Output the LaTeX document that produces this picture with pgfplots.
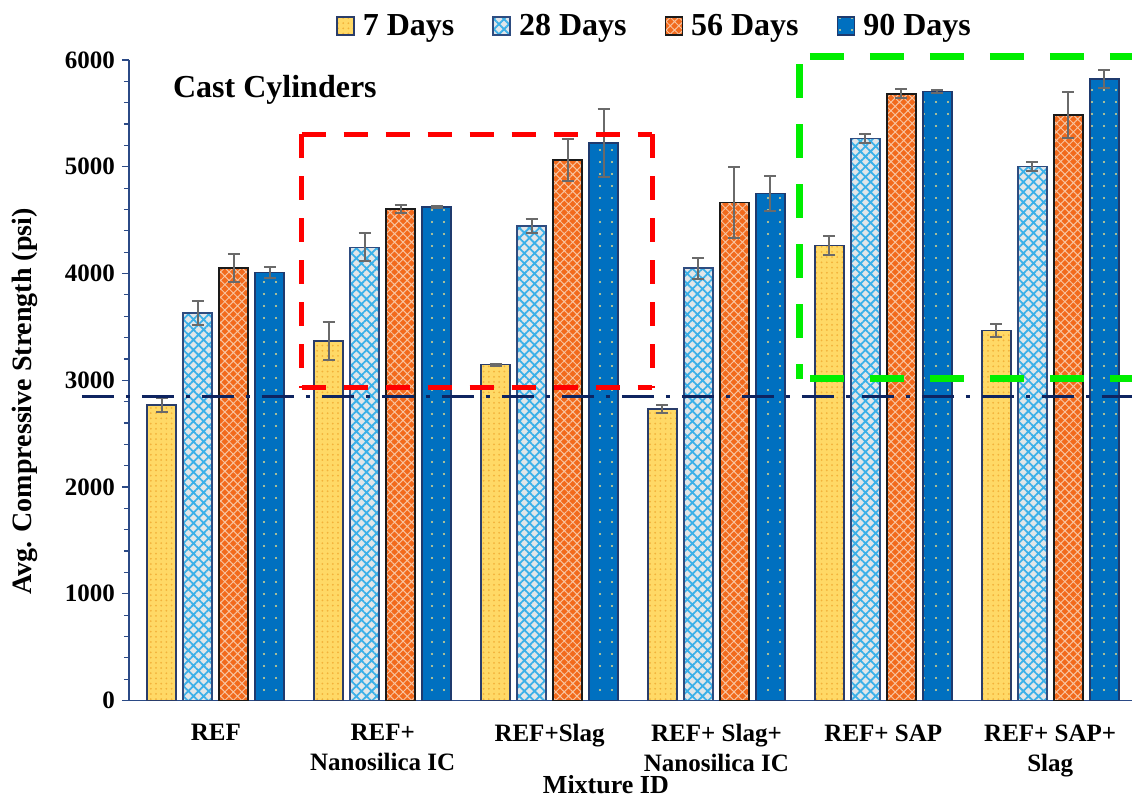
\documentclass[border=0pt]{standalone}
\usepackage{fontspec}
\setmainfont{Liberation Serif}
\usepackage{pgfplots}
\pgfplotsset{compat=1.18}
\usetikzlibrary{patterns.meta}
\definecolor{c7fill}{HTML}{FFD966}
\definecolor{c7dot}{HTML}{F2B23A}
\definecolor{c7bd}{HTML}{2A3D6A}
\definecolor{c28fill}{HTML}{E2E6E8}
\definecolor{c28pat}{HTML}{3BB0E8}
\definecolor{c28bd}{HTML}{2E4C80}
\definecolor{c56fill}{HTML}{F26A1C}
\definecolor{c56pat}{HTML}{F8C4A0}
\definecolor{c56bd}{HTML}{1A1A1A}
\definecolor{c90fill}{HTML}{0070C0}
\definecolor{c90dot}{HTML}{E2D98C}
\definecolor{c90bd}{HTML}{1F3A6E}
\definecolor{errgray}{HTML}{6A6A6A}
\definecolor{axblue}{HTML}{2B4A86}
\definecolor{navyline}{HTML}{0E2460}
\definecolor{boxgreen}{RGB}{0,238,0}
\begin{document}
\begin{tikzpicture}
\useasboundingbox (-64.5pt,-48.75pt) rectangle (501.5pt,350.25pt);
\begin{axis}[
  at={(0,0)}, anchor=south west,
  scale only axis, width=501.5pt, height=320.25pt,
  xmin=-0.52, xmax=5.49, ymin=0, ymax=6000,
  ybar=3.5pt, bar width=14.5pt,
  axis lines*=left,
  axis line style={draw=axblue, line width=0.8pt},
  clip=false,
  xtick={0,1,2,3,4,5},
  xticklabels={REF,{REF+\\Nanosilica IC},REF+Slag,{REF+ Slag+\\Nanosilica IC},REF+ SAP,{REF+ SAP+\\Slag}},
  xticklabel style={align=center, font=\fontsize{12.5}{15}\selectfont\bfseries, yshift=-5pt},
  x tick style={draw=none},
  ytick={0,1000,...,6000},
  minor y tick num=4,
  tick align=outside,
  major tick length=3.5pt, minor tick length=2.5pt,
  y tick style={draw=axblue, line width=0.6pt},
  minor y tick style={draw=axblue, line width=0.6pt},
  yticklabel style={font=\fontsize{12.5}{15}\selectfont\bfseries},
  /pgf/number format/.cd, 1000 sep={}, assume math mode=true, /pgfplots/.cd,
  xlabel={Mixture ID},
  xlabel style={at={(axis description cs:0.4755,0)}, anchor=base, yshift=-46.5pt, font=\fontsize{13}{15}\selectfont\bfseries},
  ylabel={Avg. Compressive Strength (psi)},
  ylabel style={at={(axis description cs:-0.1037,0.4668)}, anchor=center, font=\fontsize{14}{16}\selectfont\bfseries},
  legend columns=4,
  legend style={draw=none, fill=none, font=\fontsize{16}{18}\selectfont\bfseries, at={(0.525,1.053)}, anchor=center,
    /tikz/every odd column/.append style={column sep=2pt},
    /tikz/every even column/.append style={column sep=17pt}},
  legend image code/.code={\draw[#1] (0pt,-4.5pt) rectangle (8.5pt,4.5pt);},
  error bars/y dir=both, error bars/y explicit,
  error bars/error bar style={draw=errgray, line width=1pt},
  error bars/error mark options={rotate=90, mark size=3pt, line width=1pt, draw=errgray},
]
\addplot[draw=c7bd, line width=0.8pt, fill=c7fill, postaction={pattern={Dots[distance=2.6pt,radius=0.5pt]}, pattern color=c7dot}]
 coordinates {(0,2768) +- (0,65) (1,3368) +- (0,180) (2,3146) +- (0,10) (3,2731) +- (0,40) (4,4263) +- (0,85) (5,3467) +- (0,62)};
\addplot[draw=c28bd, line width=0.8pt, fill=c28fill, postaction={pattern={Hatch[distance=3.6pt,angle=45,line width=0.9pt]}, pattern color=c28pat}]
 coordinates {(0,3630) +- (0,110) (1,4245) +- (0,131) (2,4445) +- (0,69) (3,4049) +- (0,98) (4,5265) +- (0,40) (5,5003) +- (0,42)};
\addplot[draw=c56bd, line width=0.8pt, fill=c56fill, postaction={pattern={Hatch[distance=3pt,angle=45,line width=0.5pt]}, pattern color=c56pat}]
 coordinates {(0,4049) +- (0,133) (1,4604) +- (0,35) (2,5063) +- (0,200) (3,4667) +- (0,331) (4,5684) +- (0,42) (5,5484) +- (0,218)};
\addplot[draw=c90bd, line width=0.8pt, fill=c90fill, postaction={pattern={Dots[distance=6pt,radius=0.6pt]}, pattern color=c90dot}]
 coordinates {(0,4008) +- (0,53) (1,4623) +- (0,10) (2,5225) +- (0,318) (3,4748) +- (0,162) (4,5705) +- (0,15) (5,5824) +- (0,83)};
\legend{7 Days, 28 Days, 56 Days, 90 Days}
\draw[navyline, line width=1.5pt, dash pattern=on 16pt off 6pt on 2pt off 6pt] (axis cs:-0.803,2845) -- (axis cs:5.6,2845);
\begin{scope}[red, line width=2.5pt, dash pattern=on 12pt off 9pt]
\draw (axis cs:0.514,5306) -- (axis cs:2.616,5306);
\draw (axis cs:0.514,5306) -- (axis cs:0.514,2929);
\draw (axis cs:2.616,5306) -- (axis cs:2.616,2929);
\draw (axis cs:0.514,2929) -- (axis cs:2.616,2929);
\end{scope}
\begin{scope}[boxgreen, line width=3.5pt, dash pattern=on 17pt off 13pt]
\draw (axis cs:3.56,6037) -- (axis cs:5.9,6037);
\draw (axis cs:3.50,5960) -- (axis cs:3.50,3015);
\draw (axis cs:3.56,3015) -- (axis cs:5.9,3015);
\end{scope}
\node[anchor=base west, font=\fontsize{16}{18}\selectfont\bfseries, inner sep=0pt] at (axis cs:-0.258,5653) {Cast Cylinders};
\end{axis}
\end{tikzpicture}
\end{document}
